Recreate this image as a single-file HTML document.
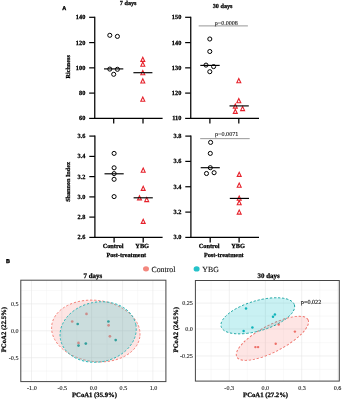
<!DOCTYPE html>
<html><head><meta charset="utf-8"><title>Figure</title>
<style>
html,body{margin:0;padding:0;background:#fff;}
body{width:342px;height:400px;overflow:hidden;font-family:"Liberation Serif",serif;}
svg{display:block;will-change:transform;text-rendering:geometricPrecision;font-family:"Liberation Serif",serif;}
</style></head><body>
<svg width="342" height="400" viewBox="0 0 342 400">
<rect x="0" y="0" width="342" height="400" fill="#fff"/>
<line x1="94.75" y1="16.75" x2="94.75" y2="118.95" stroke="#000" stroke-width="1.25"/>
<line x1="94.05" y1="118.4" x2="162.6" y2="118.4" stroke="#000" stroke-width="1.2"/>
<line x1="89.15" y1="17.3" x2="94.75" y2="17.3" stroke="#000" stroke-width="1.2"/>
<text x="85.3" y="19.35" font-size="6.3" font-weight="bold" text-anchor="end" fill="#000" stroke="#000" stroke-width="0.25">140</text>
<line x1="89.15" y1="42.6" x2="94.75" y2="42.6" stroke="#000" stroke-width="1.2"/>
<text x="85.3" y="44.65" font-size="6.3" font-weight="bold" text-anchor="end" fill="#000" stroke="#000" stroke-width="0.25">120</text>
<line x1="89.15" y1="67.85" x2="94.75" y2="67.85" stroke="#000" stroke-width="1.2"/>
<text x="85.3" y="69.89999999999999" font-size="6.3" font-weight="bold" text-anchor="end" fill="#000" stroke="#000" stroke-width="0.25">100</text>
<line x1="89.15" y1="93.1" x2="94.75" y2="93.1" stroke="#000" stroke-width="1.2"/>
<text x="85.3" y="95.14999999999999" font-size="6.3" font-weight="bold" text-anchor="end" fill="#000" stroke="#000" stroke-width="0.25">80</text>
<line x1="89.15" y1="118.4" x2="94.75" y2="118.4" stroke="#000" stroke-width="1.2"/>
<text x="85.3" y="120.45" font-size="6.3" font-weight="bold" text-anchor="end" fill="#000" stroke="#000" stroke-width="0.25">60</text>
<line x1="113.7" y1="118.4" x2="113.7" y2="123.60000000000001" stroke="#000" stroke-width="1.25"/>
<line x1="143.0" y1="118.4" x2="143.0" y2="123.60000000000001" stroke="#000" stroke-width="1.25"/>
<line x1="190.75" y1="16.75" x2="190.75" y2="118.95" stroke="#000" stroke-width="1.25"/>
<line x1="190.05" y1="118.4" x2="259.0" y2="118.4" stroke="#000" stroke-width="1.2"/>
<line x1="185.15" y1="17.3" x2="190.75" y2="17.3" stroke="#000" stroke-width="1.2"/>
<text x="181.3" y="19.35" font-size="6.3" font-weight="bold" text-anchor="end" fill="#000" stroke="#000" stroke-width="0.25">150</text>
<line x1="185.15" y1="42.6" x2="190.75" y2="42.6" stroke="#000" stroke-width="1.2"/>
<text x="181.3" y="44.65" font-size="6.3" font-weight="bold" text-anchor="end" fill="#000" stroke="#000" stroke-width="0.25">140</text>
<line x1="185.15" y1="67.85" x2="190.75" y2="67.85" stroke="#000" stroke-width="1.2"/>
<text x="181.3" y="69.89999999999999" font-size="6.3" font-weight="bold" text-anchor="end" fill="#000" stroke="#000" stroke-width="0.25">130</text>
<line x1="185.15" y1="93.1" x2="190.75" y2="93.1" stroke="#000" stroke-width="1.2"/>
<text x="181.3" y="95.14999999999999" font-size="6.3" font-weight="bold" text-anchor="end" fill="#000" stroke="#000" stroke-width="0.25">120</text>
<line x1="185.15" y1="118.4" x2="190.75" y2="118.4" stroke="#000" stroke-width="1.2"/>
<text x="181.3" y="120.45" font-size="6.3" font-weight="bold" text-anchor="end" fill="#000" stroke="#000" stroke-width="0.25">110</text>
<line x1="209.9" y1="118.4" x2="209.9" y2="123.60000000000001" stroke="#000" stroke-width="1.25"/>
<line x1="238.8" y1="118.4" x2="238.8" y2="123.60000000000001" stroke="#000" stroke-width="1.25"/>
<line x1="94.9" y1="135.54999999999998" x2="94.9" y2="237.95000000000002" stroke="#000" stroke-width="1.25"/>
<line x1="94.2" y1="237.4" x2="162.6" y2="237.4" stroke="#000" stroke-width="1.2"/>
<line x1="89.30000000000001" y1="136.1" x2="94.9" y2="136.1" stroke="#000" stroke-width="1.2"/>
<text x="85.45" y="138.15" font-size="6.3" font-weight="bold" text-anchor="end" fill="#000" stroke="#000" stroke-width="0.25">3.6</text>
<line x1="89.30000000000001" y1="156.4" x2="94.9" y2="156.4" stroke="#000" stroke-width="1.2"/>
<text x="85.45" y="158.45000000000002" font-size="6.3" font-weight="bold" text-anchor="end" fill="#000" stroke="#000" stroke-width="0.25">3.4</text>
<line x1="89.30000000000001" y1="176.6" x2="94.9" y2="176.6" stroke="#000" stroke-width="1.2"/>
<text x="85.45" y="178.65" font-size="6.3" font-weight="bold" text-anchor="end" fill="#000" stroke="#000" stroke-width="0.25">3.2</text>
<line x1="89.30000000000001" y1="196.9" x2="94.9" y2="196.9" stroke="#000" stroke-width="1.2"/>
<text x="85.45" y="198.95000000000002" font-size="6.3" font-weight="bold" text-anchor="end" fill="#000" stroke="#000" stroke-width="0.25">3.0</text>
<line x1="89.30000000000001" y1="217.1" x2="94.9" y2="217.1" stroke="#000" stroke-width="1.2"/>
<text x="85.45" y="219.15" font-size="6.3" font-weight="bold" text-anchor="end" fill="#000" stroke="#000" stroke-width="0.25">2.8</text>
<line x1="89.30000000000001" y1="237.4" x2="94.9" y2="237.4" stroke="#000" stroke-width="1.2"/>
<text x="85.45" y="239.45000000000002" font-size="6.3" font-weight="bold" text-anchor="end" fill="#000" stroke="#000" stroke-width="0.25">2.6</text>
<line x1="114.1" y1="237.4" x2="114.1" y2="242.6" stroke="#000" stroke-width="1.25"/>
<line x1="143.2" y1="237.4" x2="143.2" y2="242.6" stroke="#000" stroke-width="1.25"/>
<text x="113.1" y="247.9" font-size="6.3" font-weight="bold" text-anchor="middle" fill="#000" stroke="#000" stroke-width="0.25">Control</text>
<text x="142.2" y="247.9" font-size="6.3" font-weight="bold" text-anchor="middle" fill="#000" stroke="#000" stroke-width="0.25">YBG</text>
<line x1="190.9" y1="135.54999999999998" x2="190.9" y2="237.95000000000002" stroke="#000" stroke-width="1.25"/>
<line x1="190.20000000000002" y1="237.4" x2="259.0" y2="237.4" stroke="#000" stroke-width="1.2"/>
<line x1="185.3" y1="136.1" x2="190.9" y2="136.1" stroke="#000" stroke-width="1.2"/>
<text x="181.45000000000002" y="138.15" font-size="6.3" font-weight="bold" text-anchor="end" fill="#000" stroke="#000" stroke-width="0.25">3.8</text>
<line x1="185.3" y1="161.4" x2="190.9" y2="161.4" stroke="#000" stroke-width="1.2"/>
<text x="181.45000000000002" y="163.45000000000002" font-size="6.3" font-weight="bold" text-anchor="end" fill="#000" stroke="#000" stroke-width="0.25">3.6</text>
<line x1="185.3" y1="186.75" x2="190.9" y2="186.75" stroke="#000" stroke-width="1.2"/>
<text x="181.45000000000002" y="188.8" font-size="6.3" font-weight="bold" text-anchor="end" fill="#000" stroke="#000" stroke-width="0.25">3.4</text>
<line x1="185.3" y1="212.1" x2="190.9" y2="212.1" stroke="#000" stroke-width="1.2"/>
<text x="181.45000000000002" y="214.15" font-size="6.3" font-weight="bold" text-anchor="end" fill="#000" stroke="#000" stroke-width="0.25">3.2</text>
<line x1="185.3" y1="237.4" x2="190.9" y2="237.4" stroke="#000" stroke-width="1.2"/>
<text x="181.45000000000002" y="239.45000000000002" font-size="6.3" font-weight="bold" text-anchor="end" fill="#000" stroke="#000" stroke-width="0.25">3.0</text>
<line x1="210.2" y1="237.4" x2="210.2" y2="242.6" stroke="#000" stroke-width="1.25"/>
<line x1="239.1" y1="237.4" x2="239.1" y2="242.6" stroke="#000" stroke-width="1.25"/>
<text x="209.2" y="247.9" font-size="6.3" font-weight="bold" text-anchor="middle" fill="#000" stroke="#000" stroke-width="0.25">Control</text>
<text x="238.1" y="247.9" font-size="6.3" font-weight="bold" text-anchor="middle" fill="#000" stroke="#000" stroke-width="0.25">YBG</text>
<text x="64.2" y="9.8" font-size="5.5" font-weight="bold" text-anchor="middle" fill="#000" font-family="Liberation Sans" stroke="#000" stroke-width="0.35">A</text>
<text x="128.2" y="4.7" font-size="6.2" font-weight="bold" text-anchor="middle" fill="#000" stroke="#000" stroke-width="0.25">7 days</text>
<text x="222.6" y="7.6" font-size="6.2" font-weight="bold" text-anchor="middle" fill="#000" stroke="#000" stroke-width="0.25">30 days</text>
<text x="70.3" y="66.8" font-size="6.15" font-weight="bold" text-anchor="middle" fill="#000" transform="rotate(-90 70.3 66.8)" stroke="#000" stroke-width="0.25">Richness</text>
<text x="70.1" y="181.9" font-size="6.15" font-weight="bold" text-anchor="middle" fill="#000" transform="rotate(-90 70.1 181.9)" stroke="#000" stroke-width="0.25">Shannon Index</text>
<text x="126.3" y="256.8" font-size="6.25" font-weight="bold" text-anchor="middle" fill="#000" stroke="#000" stroke-width="0.25">Post-treatment</text>
<text x="223.8" y="256.9" font-size="6.25" font-weight="bold" text-anchor="middle" fill="#000" stroke="#000" stroke-width="0.25">Post-treatment</text>
<circle cx="109.8" cy="35.3" r="2.05" fill="none" stroke="#000" stroke-width="1.0"/>
<circle cx="117.4" cy="36.4" r="2.05" fill="none" stroke="#000" stroke-width="1.0"/>
<circle cx="109.8" cy="69.1" r="2.05" fill="none" stroke="#000" stroke-width="1.0"/>
<circle cx="117.4" cy="69.3" r="2.05" fill="none" stroke="#000" stroke-width="1.0"/>
<circle cx="113.7" cy="74.3" r="2.05" fill="none" stroke="#000" stroke-width="1.0"/>
<line x1="104" y1="68.9" x2="123.3" y2="68.9" stroke="#000" stroke-width="1.15"/>
<path d="M140.80 61.40 L144.80 61.40 L142.8 57.20 Z" fill="none" stroke="#e6212b" stroke-width="1.08" stroke-linejoin="miter"/>
<path d="M140.80 66.30 L144.80 66.30 L142.8 62.10 Z" fill="none" stroke="#e6212b" stroke-width="1.08" stroke-linejoin="miter"/>
<path d="M140.80 74.70 L144.80 74.70 L142.8 70.50 Z" fill="none" stroke="#e6212b" stroke-width="1.08" stroke-linejoin="miter"/>
<path d="M140.80 83.00 L144.80 83.00 L142.8 78.80 Z" fill="none" stroke="#e6212b" stroke-width="1.08" stroke-linejoin="miter"/>
<path d="M140.80 101.20 L144.80 101.20 L142.8 97.00 Z" fill="none" stroke="#e6212b" stroke-width="1.08" stroke-linejoin="miter"/>
<line x1="133.4" y1="72.7" x2="152.4" y2="72.7" stroke="#000" stroke-width="1.15"/>
<circle cx="209.8" cy="39" r="2.05" fill="none" stroke="#000" stroke-width="1.0"/>
<circle cx="209.8" cy="51.5" r="2.05" fill="none" stroke="#000" stroke-width="1.0"/>
<circle cx="206" cy="65.1" r="2.05" fill="none" stroke="#000" stroke-width="1.0"/>
<circle cx="213.6" cy="66.6" r="2.05" fill="none" stroke="#000" stroke-width="1.0"/>
<circle cx="209.8" cy="71.7" r="2.05" fill="none" stroke="#000" stroke-width="1.0"/>
<line x1="200.3" y1="65.4" x2="219.7" y2="65.4" stroke="#000" stroke-width="1.15"/>
<path d="M236.80 82.80 L240.80 82.80 L238.8 78.60 Z" fill="none" stroke="#e6212b" stroke-width="1.08" stroke-linejoin="miter"/>
<path d="M236.80 102.70 L240.80 102.70 L238.8 98.50 Z" fill="none" stroke="#e6212b" stroke-width="1.08" stroke-linejoin="miter"/>
<path d="M233.30 108.10 L237.30 108.10 L235.3 103.90 Z" fill="none" stroke="#e6212b" stroke-width="1.08" stroke-linejoin="miter"/>
<path d="M240.60 110.60 L244.60 110.60 L242.6 106.40 Z" fill="none" stroke="#e6212b" stroke-width="1.08" stroke-linejoin="miter"/>
<path d="M233.30 113.40 L237.30 113.40 L235.3 109.20 Z" fill="none" stroke="#e6212b" stroke-width="1.08" stroke-linejoin="miter"/>
<line x1="229.5" y1="105.9" x2="248.8" y2="105.9" stroke="#000" stroke-width="1.15"/>
<line x1="198.7" y1="25.9" x2="247.9" y2="25.9" stroke="#858585" stroke-width="0.85"/>
<text x="226.3" y="24.55" font-size="6.05" font-weight="normal" text-anchor="middle" fill="#000" stroke="#000" stroke-width="0.08">p=0.0008</text>
<circle cx="114.1" cy="153.4" r="2.05" fill="none" stroke="#000" stroke-width="1.0"/>
<circle cx="114.1" cy="167.8" r="2.05" fill="none" stroke="#000" stroke-width="1.0"/>
<circle cx="114.1" cy="173.6" r="2.05" fill="none" stroke="#000" stroke-width="1.0"/>
<circle cx="114.1" cy="179.3" r="2.05" fill="none" stroke="#000" stroke-width="1.0"/>
<circle cx="114.1" cy="196.6" r="2.05" fill="none" stroke="#000" stroke-width="1.0"/>
<line x1="104.5" y1="173.8" x2="123.7" y2="173.8" stroke="#000" stroke-width="1.15"/>
<path d="M141.20 172.20 L145.20 172.20 L143.2 168.00 Z" fill="none" stroke="#e6212b" stroke-width="1.08" stroke-linejoin="miter"/>
<path d="M141.20 190.40 L145.20 190.40 L143.2 186.20 Z" fill="none" stroke="#e6212b" stroke-width="1.08" stroke-linejoin="miter"/>
<path d="M137.50 199.90 L141.50 199.90 L139.5 195.70 Z" fill="none" stroke="#e6212b" stroke-width="1.08" stroke-linejoin="miter"/>
<path d="M144.70 201.60 L148.70 201.60 L146.7 197.40 Z" fill="none" stroke="#e6212b" stroke-width="1.08" stroke-linejoin="miter"/>
<path d="M141.20 223.40 L145.20 223.40 L143.2 219.20 Z" fill="none" stroke="#e6212b" stroke-width="1.08" stroke-linejoin="miter"/>
<line x1="133.6" y1="197.8" x2="152.8" y2="197.8" stroke="#000" stroke-width="1.15"/>
<circle cx="210.6" cy="142.4" r="2.05" fill="none" stroke="#000" stroke-width="1.0"/>
<circle cx="210.3" cy="153.4" r="2.05" fill="none" stroke="#000" stroke-width="1.0"/>
<circle cx="210.3" cy="167.7" r="2.05" fill="none" stroke="#000" stroke-width="1.0"/>
<circle cx="206.5" cy="173.5" r="2.05" fill="none" stroke="#000" stroke-width="1.0"/>
<circle cx="214.1" cy="172.7" r="2.05" fill="none" stroke="#000" stroke-width="1.0"/>
<line x1="200.7" y1="167.7" x2="219.8" y2="167.7" stroke="#000" stroke-width="1.15"/>
<path d="M237.20 176.40 L241.20 176.40 L239.2 172.20 Z" fill="none" stroke="#e6212b" stroke-width="1.08" stroke-linejoin="miter"/>
<path d="M237.20 187.20 L241.20 187.20 L239.2 183.00 Z" fill="none" stroke="#e6212b" stroke-width="1.08" stroke-linejoin="miter"/>
<path d="M237.20 200.30 L241.20 200.30 L239.2 196.10 Z" fill="none" stroke="#e6212b" stroke-width="1.08" stroke-linejoin="miter"/>
<path d="M237.20 204.80 L241.20 204.80 L239.2 200.60 Z" fill="none" stroke="#e6212b" stroke-width="1.08" stroke-linejoin="miter"/>
<path d="M237.20 214.10 L241.20 214.10 L239.2 209.90 Z" fill="none" stroke="#e6212b" stroke-width="1.08" stroke-linejoin="miter"/>
<line x1="229.8" y1="198.4" x2="249" y2="198.4" stroke="#000" stroke-width="1.15"/>
<line x1="200.2" y1="138.65" x2="249.7" y2="138.65" stroke="#858585" stroke-width="0.85"/>
<text x="226.7" y="135.75" font-size="6.15" font-weight="normal" text-anchor="middle" fill="#000" stroke="#000" stroke-width="0.08">p=0.0071</text>
<ellipse cx="146.0" cy="268.8" rx="3.0" ry="2.6" fill="#f3877e"/>
<text x="151.5" y="271.5" font-size="7.8" font-weight="normal" text-anchor="start" fill="#111" stroke="#111" stroke-width="0.12">Control</text>
<ellipse cx="196.6" cy="268.9" rx="3.0" ry="2.6" fill="#25c2c9"/>
<text x="202.3" y="271.5" font-size="7.8" font-weight="normal" text-anchor="start" fill="#111" stroke="#111" stroke-width="0.12">YBG</text>
<text x="8" y="262.6" font-size="5.5" font-weight="bold" text-anchor="middle" fill="#000" font-family="Liberation Sans" stroke="#000" stroke-width="0.35">B</text>
<text x="92.8" y="277.9" font-size="6.9" font-weight="bold" text-anchor="middle" fill="#000" stroke="#000" stroke-width="0.25">7 days</text>
<text x="268.6" y="277.9" font-size="6.9" font-weight="bold" text-anchor="middle" fill="#000" stroke="#000" stroke-width="0.25">30 days</text>
<rect x="20.8" y="280.2" width="145.1" height="101.40000000000003" fill="#fff"/>
<line x1="46.6" y1="280.2" x2="46.6" y2="381.6" stroke="#f1f1f1" stroke-width="0.4"/>
<line x1="76.7" y1="280.2" x2="76.7" y2="381.6" stroke="#f1f1f1" stroke-width="0.4"/>
<line x1="107.1" y1="280.2" x2="107.1" y2="381.6" stroke="#f1f1f1" stroke-width="0.4"/>
<line x1="137.7" y1="280.2" x2="137.7" y2="381.6" stroke="#f1f1f1" stroke-width="0.4"/>
<line x1="20.8" y1="290.5" x2="165.9" y2="290.5" stroke="#f1f1f1" stroke-width="0.4"/>
<line x1="20.8" y1="317.3" x2="165.9" y2="317.3" stroke="#f1f1f1" stroke-width="0.4"/>
<line x1="20.8" y1="344.2" x2="165.9" y2="344.2" stroke="#f1f1f1" stroke-width="0.4"/>
<line x1="20.8" y1="371.1" x2="165.9" y2="371.1" stroke="#f1f1f1" stroke-width="0.4"/>
<line x1="31.5" y1="280.2" x2="31.5" y2="381.6" stroke="#e6e6e6" stroke-width="0.6"/>
<line x1="61.8" y1="280.2" x2="61.8" y2="381.6" stroke="#e6e6e6" stroke-width="0.6"/>
<line x1="91.6" y1="280.2" x2="91.6" y2="381.6" stroke="#e6e6e6" stroke-width="0.6"/>
<line x1="122.6" y1="280.2" x2="122.6" y2="381.6" stroke="#e6e6e6" stroke-width="0.6"/>
<line x1="152.9" y1="280.2" x2="152.9" y2="381.6" stroke="#e6e6e6" stroke-width="0.6"/>
<line x1="20.8" y1="303.9" x2="165.9" y2="303.9" stroke="#e6e6e6" stroke-width="0.6"/>
<line x1="20.8" y1="330.8" x2="165.9" y2="330.8" stroke="#e6e6e6" stroke-width="0.6"/>
<line x1="20.8" y1="357.7" x2="165.9" y2="357.7" stroke="#e6e6e6" stroke-width="0.6"/>
<ellipse cx="95.8" cy="331.0" rx="44.4" ry="30.6" transform="rotate(7.5 95.8 331.0)" fill="#f8766d" fill-opacity="0.19" stroke="#f27b72" stroke-width="0.9" stroke-dasharray="2.3 1.8"/>
<ellipse cx="98.15" cy="332.0" rx="38.4" ry="29.9" transform="rotate(-11.4 98.15 332.0)" fill="#00bfc4" fill-opacity="0.20" stroke="#1fb3b4" stroke-width="0.9" stroke-dasharray="2.3 1.8"/>
<circle cx="86.5" cy="313.9" r="1.35" fill="#cc8d8a"/>
<circle cx="72.2" cy="321.5" r="1.35" fill="#cc8d8a"/>
<circle cx="108.6" cy="325.3" r="1.35" fill="#cc8d8a"/>
<circle cx="109.9" cy="336.3" r="1.35" fill="#cc8d8a"/>
<circle cx="78.5" cy="342.9" r="1.35" fill="#cc8d8a"/>
<circle cx="77.7" cy="324" r="1.35" fill="#339f9c"/>
<circle cx="108.4" cy="321.5" r="1.35" fill="#339f9c"/>
<circle cx="115.7" cy="340.1" r="1.35" fill="#339f9c"/>
<circle cx="85.8" cy="343.6" r="1.35" fill="#339f9c"/>
<circle cx="78.5" cy="345.6" r="1.35" fill="#339f9c"/>
<rect x="20.8" y="280.2" width="145.1" height="101.40000000000003" fill="none" stroke="#454545" stroke-width="1.0"/>
<text x="18.5" y="305.9" font-size="6.1" font-weight="normal" text-anchor="end" fill="#111" stroke="#111" stroke-width="0.1">0.5</text>
<text x="18.5" y="332.8" font-size="6.1" font-weight="normal" text-anchor="end" fill="#111" stroke="#111" stroke-width="0.1">0.0</text>
<text x="18.5" y="359.7" font-size="6.1" font-weight="normal" text-anchor="end" fill="#111" stroke="#111" stroke-width="0.1">-0.5</text>
<text x="31.9" y="389.9" font-size="6.1" font-weight="normal" text-anchor="middle" fill="#111" stroke="#111" stroke-width="0.1">-1.0</text>
<text x="62.3" y="389.9" font-size="6.1" font-weight="normal" text-anchor="middle" fill="#111" stroke="#111" stroke-width="0.1">-0.5</text>
<text x="93.6" y="389.9" font-size="6.1" font-weight="normal" text-anchor="middle" fill="#111" stroke="#111" stroke-width="0.1">0.0</text>
<text x="123.4" y="389.9" font-size="6.1" font-weight="normal" text-anchor="middle" fill="#111" stroke="#111" stroke-width="0.1">0.5</text>
<text x="153.6" y="389.9" font-size="6.1" font-weight="normal" text-anchor="middle" fill="#111" stroke="#111" stroke-width="0.1">1.0</text>
<text x="6.1" y="329.6" font-size="6.75" font-weight="bold" text-anchor="middle" fill="#000" transform="rotate(-90 6.1 329.6)" stroke="#000" stroke-width="0.25">PCoA2 (22.5%)</text>
<text x="94.5" y="397.4" font-size="6.7" font-weight="bold" text-anchor="middle" fill="#000" stroke="#000" stroke-width="0.25">PCoA1 (35.9%)</text>
<rect x="195.4" y="280.5" width="143.9" height="100.60000000000002" fill="#fff"/>
<line x1="211.1" y1="280.5" x2="211.1" y2="381.1" stroke="#f1f1f1" stroke-width="0.4"/>
<line x1="247.3" y1="280.5" x2="247.3" y2="381.1" stroke="#f1f1f1" stroke-width="0.4"/>
<line x1="283.6" y1="280.5" x2="283.6" y2="381.1" stroke="#f1f1f1" stroke-width="0.4"/>
<line x1="319.8" y1="280.5" x2="319.8" y2="381.1" stroke="#f1f1f1" stroke-width="0.4"/>
<line x1="195.4" y1="290.2" x2="339.3" y2="290.2" stroke="#f1f1f1" stroke-width="0.4"/>
<line x1="195.4" y1="316.1" x2="339.3" y2="316.1" stroke="#f1f1f1" stroke-width="0.4"/>
<line x1="195.4" y1="342.7" x2="339.3" y2="342.7" stroke="#f1f1f1" stroke-width="0.4"/>
<line x1="195.4" y1="369.4" x2="339.3" y2="369.4" stroke="#f1f1f1" stroke-width="0.4"/>
<line x1="229.3" y1="280.5" x2="229.3" y2="381.1" stroke="#e6e6e6" stroke-width="0.6"/>
<line x1="265.4" y1="280.5" x2="265.4" y2="381.1" stroke="#e6e6e6" stroke-width="0.6"/>
<line x1="301.7" y1="280.5" x2="301.7" y2="381.1" stroke="#e6e6e6" stroke-width="0.6"/>
<line x1="338.0" y1="280.5" x2="338.0" y2="381.1" stroke="#e6e6e6" stroke-width="0.6"/>
<line x1="195.4" y1="303.1" x2="339.3" y2="303.1" stroke="#e6e6e6" stroke-width="0.6"/>
<line x1="195.4" y1="329.0" x2="339.3" y2="329.0" stroke="#e6e6e6" stroke-width="0.6"/>
<line x1="195.4" y1="356.0" x2="339.3" y2="356.0" stroke="#e6e6e6" stroke-width="0.6"/>
<ellipse cx="272.4" cy="338.3" rx="40.2" ry="13.3" transform="rotate(-27.6 272.4 338.3)" fill="#f8766d" fill-opacity="0.19" stroke="#ef7068" stroke-width="0.9" stroke-dasharray="2.3 1.8"/>
<ellipse cx="257.8" cy="315.8" rx="38.2" ry="15.0" transform="rotate(-16.6 257.8 315.8)" fill="#00bfc4" fill-opacity="0.21" stroke="#1aa5a2" stroke-width="0.9" stroke-dasharray="2.3 1.8"/>
<circle cx="278.7" cy="324.6" r="1.2" fill="#ee6f68"/>
<circle cx="294.9" cy="331.6" r="1.2" fill="#ee6f68"/>
<circle cx="275.7" cy="343.8" r="1.2" fill="#ee6f68"/>
<circle cx="255.4" cy="347.1" r="1.2" fill="#ee6f68"/>
<circle cx="258.1" cy="347.1" r="1.2" fill="#ee6f68"/>
<circle cx="246" cy="308.4" r="1.25" fill="#10b4bb"/>
<circle cx="274.9" cy="314.5" r="1.25" fill="#10b4bb"/>
<circle cx="273.0" cy="316.8" r="1.25" fill="#10b4bb"/>
<circle cx="252.4" cy="327.4" r="1.25" fill="#10b4bb"/>
<circle cx="243.6" cy="331.0" r="1.25" fill="#10b4bb"/>
<rect x="195.4" y="280.5" width="143.9" height="100.60000000000002" fill="none" stroke="#454545" stroke-width="1.0"/>
<text x="192.8" y="305.1" font-size="6.1" font-weight="normal" text-anchor="end" fill="#111" stroke="#111" stroke-width="0.1">0.25</text>
<text x="192.8" y="331.0" font-size="6.1" font-weight="normal" text-anchor="end" fill="#111" stroke="#111" stroke-width="0.1">0.0</text>
<text x="192.8" y="358.0" font-size="6.1" font-weight="normal" text-anchor="end" fill="#111" stroke="#111" stroke-width="0.1">-0.25</text>
<text x="229.2" y="389.8" font-size="6.1" font-weight="normal" text-anchor="middle" fill="#111" stroke="#111" stroke-width="0.1">-0.3</text>
<text x="265.3" y="389.8" font-size="6.1" font-weight="normal" text-anchor="middle" fill="#111" stroke="#111" stroke-width="0.1">0.0</text>
<text x="302.0" y="389.8" font-size="6.1" font-weight="normal" text-anchor="middle" fill="#111" stroke="#111" stroke-width="0.1">0.3</text>
<text x="337.5" y="389.8" font-size="6.1" font-weight="normal" text-anchor="middle" fill="#111" stroke="#111" stroke-width="0.1">0.6</text>
<text x="177.8" y="329.8" font-size="6.75" font-weight="bold" text-anchor="middle" fill="#000" transform="rotate(-90 177.8 329.8)" stroke="#000" stroke-width="0.25">PCoA2 (24.5%)</text>
<text x="265.6" y="397.2" font-size="6.7" font-weight="bold" text-anchor="middle" fill="#000" stroke="#000" stroke-width="0.25">PCoA1 (27.2%)</text>
<text x="300.8" y="303.5" font-size="6.2" font-weight="normal" text-anchor="start" fill="#000" stroke="#000" stroke-width="0.1">p=0.022</text>
</svg>
</body></html>
